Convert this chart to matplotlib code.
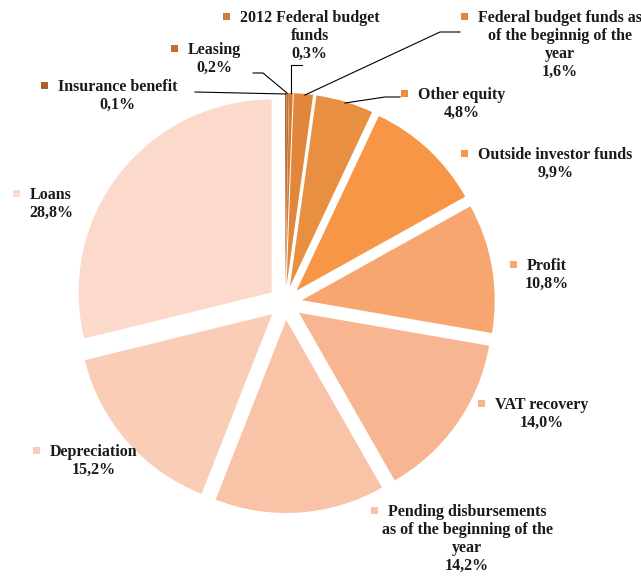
import numpy as np
import matplotlib
matplotlib.use("Agg")
import matplotlib.pyplot as plt

# shares, %, clockwise from the top
names = ["Insurance benefit", "Leasing", "2012 Federal budget\nfunds",
         "Federal budget funds as\nof the beginnig of the\nyear",
         "Other equity", "Outside investor funds", "Profit", "VAT recovery",
         "Pending disbursements\nas of the beginning of the\nyear",
         "Depreciation", "Loans"]
shares = [0.1, 0.2, 0.3, 1.6, 4.8, 9.9, 10.8, 14.0, 14.2, 15.2, 28.8]
share_labels = ["0,1%", "0,2%", "0,3%", "1,6%", "4,8%", "9,9%", "10,8%",
                "14,0%", "14,2%", "15,2%", "28,8%"]
colors = ["#A9602A", "#C26E30", "#D27A36", "#E0873B", "#E98F42", "#F79646",
          "#F7A670", "#F8B592", "#F9C3A8", "#FACDB7", "#FBDACC"]

W, H = 641, 577
fig = plt.figure(figsize=(W / 100, H / 100), dpi=100)
ax = fig.add_axes([0, 0, 1, 1])

cx, cy, R = 285, H - 303, 193
ax.pie(shares, colors=colors, startangle=90, counterclock=False,
       center=(cx, cy), radius=R, explode=[17] * len(shares),
       wedgeprops=dict(linewidth=0), frame=True)
ax.set_xlim(0, W)
ax.set_ylim(0, H)
ax.set_aspect("equal")
ax.axis("off")

# label placement (pixel coords of first line's text start, image y-down)
label_pos = [(58, 87), (188, 50), (240, 18), (478, 18), (418, 95), (478, 155),
             (527, 266), (495, 405), (388, 512), (50, 452), (30, 195)]
line_h = 18
font = dict(family="Liberation Serif", weight="bold", fontsize=11.5, color="#1a1a1a")

for name, lab, col, (x, y) in zip(names, share_labels, colors, label_pos):
    lines = name.split("\n") + [lab]
    t = ax.text(x, H - y, lines[0], ha="left", va="center", **font)
    fig.canvas.draw()
    bb = t.get_window_extent().transformed(ax.transData.inverted())
    mid = (bb.x0 + bb.x1) / 2
    t.set_visible(False)
    for k, s in enumerate(lines):
        ax.text(mid, H - y - k * line_h, s, ha="center", va="center", **font)
    ax.add_patch(plt.Rectangle((x - 17, H - y - 2), 7, 7, color=col, lw=0))

# leader lines for the small slices (image y-down coords)
leaders = [
    [(195, 92), (286, 94)],
    [(253, 73), (263, 73), (287, 93)],
    [(291, 93), (291, 65), (302, 65)],
    [(305, 95), (440, 32), (460, 32)],
    [(345, 103), (385, 97), (400, 97)],
]
for pts in leaders:
    xs = [p[0] for p in pts]
    ys = [H - p[1] for p in pts]
    ax.plot(xs, ys, color="black", lw=0.8)

fig.savefig("out.png", dpi=100)
